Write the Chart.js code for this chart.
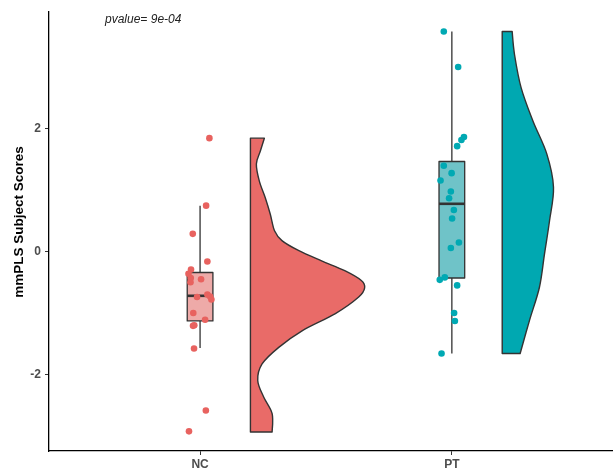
<!DOCTYPE html>
<html>
<head>
<meta charset="utf-8">
<script src="https://cdn.jsdelivr.net/npm/chart.js@4"></script>
<style>
  html, body { margin: 0; padding: 0; background: #fff; }
  canvas { display: block; }
</style>
</head>
<body>
<canvas id="rain" width="613" height="473"></canvas>
<script>
// Raincloud plot: jittered points, boxplot and half violin per group

const groups = ['NC', 'PT'];
const yTicks = [-2, 0, 2];
const yTitle = 'mmPLS Subject Scores';
const pvalueText = 'pvalue= 9e-04';

// jittered raw scores (x = group position + jitter)
const ncX = [1.037, 1.024, 0.971, 1.029, 0.964, 0.954, 0.963, 0.962, 1.004, 1.029,
             0.988, 1.045, 1.040, 0.973, 0.972, 0.977, 1.020, 0.976, 1.023, 0.956];
const ncY = [1.85, 0.75, 0.29, -0.16, -0.29, -0.36, -0.43, -0.50, -0.45, -0.70,
             -0.74, -0.78, -0.73, -1.00, -1.21, -1.20, -1.11, -1.58, -2.59, -2.93];
const ptX = [1.968, 2.025, 2.048, 2.038, 2.021, 1.968, 1.999, 1.955, 1.996, 1.989,
             2.008, 2.001, 2.028, 1.996, 1.952, 1.972, 2.021, 2.009, 2.012, 1.959];
const ptY = [3.59, 3.01, 1.87, 1.82, 1.72, 1.40, 1.28, 1.16, 0.98, 0.87,
             0.68, 0.54, 0.15, 0.06, -0.46, -0.42, -0.55, -1.00, -1.13, -1.66];

// box stats: [lower whisker, q1, median, q3, upper whisker]
const ncBox = [-1.57, -1.13, -0.72, -0.34, 0.75];
const ptBox = [-1.66, -0.43, 0.78, 1.47, 3.59];

// half-violin density (relative width) along y
const ncDensY = [1.85, 1.64, 1.43, 1.15, 0.88, 0.61, 0.34, 0.18, 0.02, -0.15, -0.31, -0.47,
                 -0.59, -0.74, -1.01, -1.29, -1.56, -1.83, -2.10, -2.37, -2.64, -2.94];
const ncDens = [0.122, 0.087, 0.052, 0.078, 0.130, 0.174, 0.211, 0.276, 0.420, 0.623, 0.826, 0.971,
                1.000, 0.948, 0.744, 0.452, 0.248, 0.102, 0.064, 0.116, 0.190, 0.190];
const ptDensY = [3.59, 3.21, 2.67, 2.13, 1.59, 1.05, 0.50, -0.04, -0.58, -1.12, -1.66];
const ptDens = [0.087, 0.108, 0.166, 0.269, 0.391, 0.449, 0.414, 0.370, 0.326, 0.239, 0.157];

const colors = {
    nc: { point: '#E8625F', box: '#EEAAA8', violin: '#E96B68' },
    pt: { point: '#00A9B3', box: '#6FC3C8', violin: '#00A8B1' }
};
const outline = '#333333';
const fontFamily = "'Liberation Sans', Arial, sans-serif";

const boxHalf = 0.051;
const violinNudge = 0.2;
const violinScale = 0.4536;

const toPoints = (xs, ys) => xs.map((x, i) => ({ x: x, y: ys[i] }));

const clouds = [
    { pos: 1, box: ncBox, dy: ncDensY, d: ncDens, c: colors.nc },
    { pos: 2, box: ptBox, dy: ptDensY, d: ptDens, c: colors.pt }
];

function smoothThrough(ctx, pts) {
    for (let i = 0; i < pts.length - 1; i++) {
        const p0 = pts[Math.max(i - 1, 0)];
        const p1 = pts[i];
        const p2 = pts[i + 1];
        const p3 = pts[Math.min(i + 2, pts.length - 1)];
        ctx.bezierCurveTo(
            p1.x + (p2.x - p0.x) / 6, p1.y + (p2.y - p0.y) / 6,
            p2.x - (p3.x - p1.x) / 6, p2.y - (p3.y - p1.y) / 6,
            p2.x, p2.y
        );
    }
}

const rainPlugin = {
    id: 'rain',
    beforeDatasetsDraw(chart) {
        const ctx = chart.ctx;
        const xs = chart.scales.x, ys = chart.scales.y;
        ctx.save();
        clouds.forEach(g => {
            // half violin
            const left = xs.getPixelForValue(g.pos + violinNudge);
            const pts = g.dy.map((v, i) => ({
                x: xs.getPixelForValue(g.pos + violinNudge + g.d[i] * violinScale),
                y: ys.getPixelForValue(v)
            }));
            ctx.beginPath();
            ctx.moveTo(left, pts[0].y);
            ctx.lineTo(pts[0].x, pts[0].y);
            smoothThrough(ctx, pts);
            ctx.lineTo(left, pts[pts.length - 1].y);
            ctx.closePath();
            ctx.fillStyle = g.c.violin;
            ctx.fill();
            ctx.lineWidth = 1.4;
            ctx.strokeStyle = outline;
            ctx.lineJoin = 'round';
            ctx.stroke();

            // whiskers
            const cx = xs.getPixelForValue(g.pos);
            const [lo, q1, med, q3, hi] = g.box.map(v => ys.getPixelForValue(v));
            ctx.beginPath();
            ctx.moveTo(cx, hi); ctx.lineTo(cx, q3);
            ctx.moveTo(cx, q1); ctx.lineTo(cx, lo);
            ctx.lineWidth = 1.3;
            ctx.stroke();

            // box
            const bl = xs.getPixelForValue(g.pos - boxHalf);
            const br = xs.getPixelForValue(g.pos + boxHalf);
            ctx.fillStyle = g.c.box;
            ctx.fillRect(bl, q3, br - bl, q1 - q3);
            ctx.strokeRect(bl, q3, br - bl, q1 - q3);
            ctx.beginPath();
            ctx.moveTo(bl, med); ctx.lineTo(br, med);
            ctx.lineWidth = 2.6;
            ctx.stroke();
        });
        ctx.restore();
    },
    afterDraw(chart) {
        const ctx = chart.ctx;
        ctx.save();
        ctx.font = 'italic 12px ' + fontFamily;
        ctx.fillStyle = '#222';
        ctx.textBaseline = 'middle';
        ctx.fillText(pvalueText, 105, 20);

        // y axis title
        ctx.translate(19, 222);
        ctx.rotate(-Math.PI / 2);
        ctx.font = 'bold 13.5px ' + fontFamily;
        ctx.fillStyle = '#000';
        ctx.textAlign = 'center';
        ctx.fillText(yTitle, 0, 0);
        ctx.restore();
    }
};

const axisTickFont = { family: fontFamily, size: 12, weight: 'bold' };

new Chart(document.getElementById('rain'), {
    type: 'scatter',
    data: {
        datasets: [{
            data: toPoints(ncX, ncY),
            backgroundColor: colors.nc.point,
            borderWidth: 0,
            pointRadius: 3.3
        }, {
            data: toPoints(ptX, ptY),
            backgroundColor: colors.pt.point,
            borderWidth: 0,
            pointRadius: 3.3
        }]
    },
    options: {
        responsive: false,
        animation: false,
        layout: { autoPadding: false, padding: { top: 10, right: 0, left: 0, bottom: 0 } },
        plugins: {
            legend: { display: false },
            tooltip: { enabled: false }
        },
        scales: {
            x: {
                type: 'linear',
                min: 0.4,
                max: 2.64,
                afterBuildTicks: s => { s.ticks = [{ value: 1 }, { value: 2 }]; },
                afterFit: s => { s.height = 22; },
                ticks: {
                    callback: v => groups[v - 1],
                    font: axisTickFont,
                    color: '#4D4D4D',
                    padding: 2,
                    maxRotation: 0,
                    autoSkip: false
                },
                grid: { drawOnChartArea: false, drawTicks: true, tickLength: 4, color: '#333' },
                border: { color: '#000', width: 1.3 }
            },
            y: {
                min: -3.25,
                max: 3.92,
                afterBuildTicks: s => { s.ticks = yTicks.map(v => ({ value: v })); },
                afterFit: s => { s.width = 49; },
                ticks: {
                    font: axisTickFont,
                    color: '#4D4D4D',
                    padding: 4
                },
                grid: { drawOnChartArea: false, drawTicks: true, tickLength: 4, color: '#333' },
                border: { color: '#000', width: 1.3 }
            }
        }
    },
    plugins: [rainPlugin]
});
</script>
</body>
</html>
